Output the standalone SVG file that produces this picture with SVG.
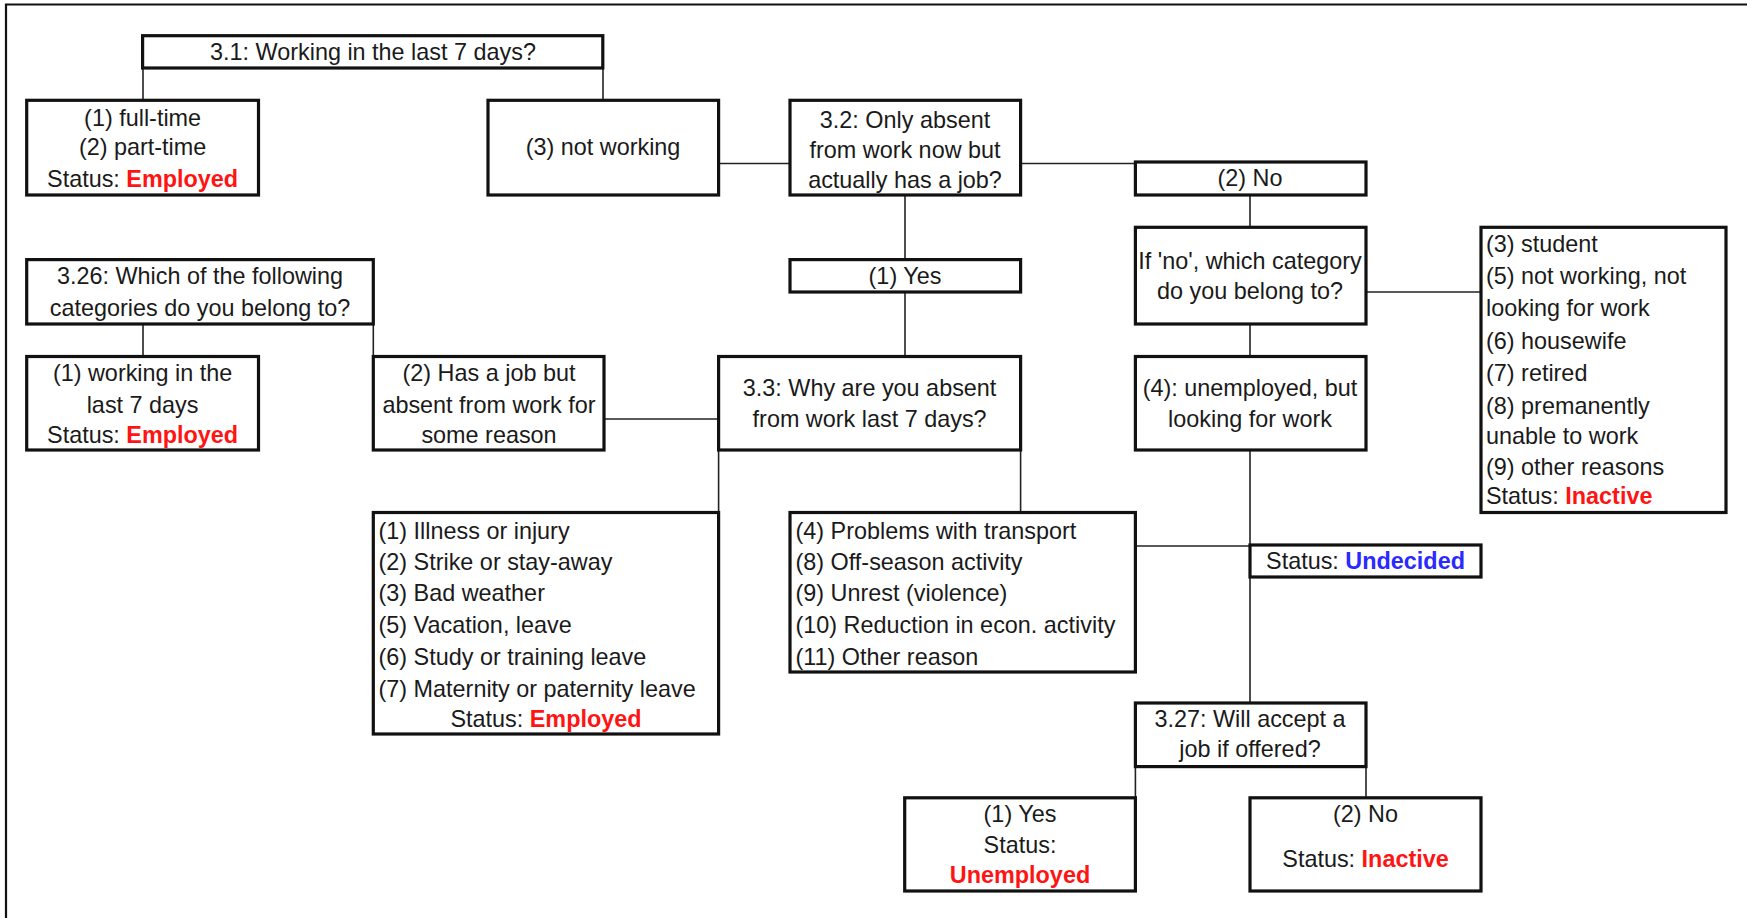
<svg xmlns="http://www.w3.org/2000/svg" width="1747" height="918" viewBox="0 0 1747 918">
  <style>
    .frame { stroke: #111; stroke-width: 2.2; fill: none; }
    .conn { stroke: #222; stroke-width: 1.6; fill: none; }
    .box { fill: #fff; stroke: #111; stroke-width: 3.2; }
    text { font-family: "Liberation Sans", Arial, sans-serif; font-size: 23.4px; fill: #1a1a1a; }
    .c { text-anchor: middle; }
    .red { fill: #ff1414; font-weight: bold; }
    .blue { fill: #2a2aff; font-weight: bold; }
  </style>

  <!-- page frame -->
  <path class="frame" d="M6 918 V4.5 H1747"/>

  <!-- connectors (drawn beneath the boxes) -->
  <g id="connectors">
    <path class="conn" d="M143 68 V100"/>
    <path class="conn" d="M603 68 V100"/>
    <path class="conn" d="M718.6 163.5 H790"/>
    <path class="conn" d="M1020.6 163.5 H1135.4"/>
    <path class="conn" d="M905 195 V260"/>
    <path class="conn" d="M905 292 V356.5"/>
    <path class="conn" d="M1250 195 V227"/>
    <path class="conn" d="M1366 292 H1481"/>
    <path class="conn" d="M1250 324 V356.5"/>
    <path class="conn" d="M1250 450 V703"/>
    <path class="conn" d="M1135.4 546 H1250"/>
    <path class="conn" d="M143 324 V356.5"/>
    <path class="conn" d="M373.3 324 V356.5"/>
    <path class="conn" d="M604 419 H718.6"/>
    <path class="conn" d="M718.6 450 V512.5"/>
    <path class="conn" d="M1020.6 450 V512.5"/>
    <path class="conn" d="M1135.4 766.6 V797.8"/>
    <path class="conn" d="M1366 766.6 V797.8"/>
  </g>

  <g id="q31">
    <rect class="box" x="142.6" y="35.7" width="460.2" height="32.3"/>
    <text class="c" x="373" y="60">3.1: Working in the last 7 days?</text>
  </g>

  <g id="working">
    <rect class="box" x="26.7" y="100.3" width="231.8" height="94.7"/>
    <text class="c" x="142.6" y="126">(1) full-time</text>
    <text class="c" x="142.6" y="155">(2) part-time</text>
    <text class="c" x="142.6" y="187">Status: <tspan class="red">Employed</tspan></text>
  </g>

  <g id="not-working">
    <rect class="box" x="488" y="100.3" width="230.6" height="94.7"/>
    <text class="c" x="603" y="155">(3) not working</text>
  </g>

  <g id="q32">
    <rect class="box" x="790" y="100.3" width="230.6" height="94.7"/>
    <text class="c" x="905" y="128">3.2: Only absent</text>
    <text class="c" x="905" y="158">from work now but</text>
    <text class="c" x="905" y="188">actually has a job?</text>
  </g>

  <g id="q32-no">
    <rect class="box" x="1135.4" y="162" width="230.6" height="33"/>
    <text class="c" x="1250" y="186">(2) No</text>
  </g>

  <g id="which-category">
    <rect class="box" x="1135.4" y="227.3" width="230.6" height="96.7"/>
    <text class="c" x="1250" y="269">If 'no', which category</text>
    <text class="c" x="1250" y="299">do you belong to?</text>
  </g>

  <g id="inactive-list">
    <rect class="box" x="1481" y="227.3" width="245" height="285.2"/>
    <text x="1486" y="252">(3) student</text>
    <text x="1486" y="284">(5) not working, not</text>
    <text x="1486" y="316">looking for work</text>
    <text x="1486" y="349">(6) housewife</text>
    <text x="1486" y="381">(7) retired</text>
    <text x="1486" y="413.5">(8) premanently</text>
    <text x="1486" y="444">unable to work</text>
    <text x="1486" y="475">(9) other reasons</text>
    <text x="1486" y="504">Status: <tspan class="red">Inactive</tspan></text>
  </g>

  <g id="q326">
    <rect class="box" x="26.7" y="259.6" width="346.6" height="64.4"/>
    <text class="c" x="200" y="284">3.26: Which of the following</text>
    <text class="c" x="200" y="315.5">categories do you belong to?</text>
  </g>

  <g id="q32-yes">
    <rect class="box" x="790" y="259.6" width="230.6" height="32.4"/>
    <text class="c" x="905" y="284">(1) Yes</text>
  </g>

  <g id="working-7-days">
    <rect class="box" x="26.7" y="356.5" width="231.8" height="93.5"/>
    <text class="c" x="142.6" y="381">(1) working in the</text>
    <text class="c" x="142.6" y="412.5">last 7 days</text>
    <text class="c" x="142.6" y="442.5">Status: <tspan class="red">Employed</tspan></text>
  </g>

  <g id="has-job-absent">
    <rect class="box" x="373.3" y="356.5" width="230.7" height="93.5"/>
    <text class="c" x="489" y="381">(2) Has a job but</text>
    <text class="c" x="489" y="412.5">absent from work for</text>
    <text class="c" x="489" y="442.5">some reason</text>
  </g>

  <g id="q33">
    <rect class="box" x="718.6" y="356.5" width="302" height="93.5"/>
    <text class="c" x="869.6" y="396">3.3: Why are you absent</text>
    <text class="c" x="869.6" y="427">from work last 7 days?</text>
  </g>

  <g id="unemployed-looking">
    <rect class="box" x="1135.4" y="356.5" width="230.6" height="93.5"/>
    <text class="c" x="1250" y="396">(4): unemployed, but</text>
    <text class="c" x="1250" y="427">looking for work</text>
  </g>

  <g id="reasons-employed">
    <rect class="box" x="373.3" y="512.5" width="345.3" height="221.5"/>
    <text x="378.5" y="538.5">(1) Illness or injury</text>
    <text x="378.5" y="569.5">(2) Strike or stay-away</text>
    <text x="378.5" y="601">(3) Bad weather</text>
    <text x="378.5" y="633">(5) Vacation, leave</text>
    <text x="378.5" y="664.5">(6) Study or training leave</text>
    <text x="378.5" y="697">(7) Maternity or paternity leave</text>
    <text class="c" x="546" y="727">Status: <tspan class="red">Employed</tspan></text>
  </g>

  <g id="reasons-undecided">
    <rect class="box" x="790" y="512.5" width="345.4" height="159.5"/>
    <text x="795.5" y="538.5">(4) Problems with transport</text>
    <text x="795.5" y="569.5">(8) Off-season activity</text>
    <text x="795.5" y="601">(9) Unrest (violence)</text>
    <text x="795.5" y="633">(10) Reduction in econ. activity</text>
    <text x="795.5" y="664.5">(11) Other reason</text>
  </g>

  <g id="undecided">
    <rect class="box" x="1250" y="545" width="231" height="32"/>
    <text class="c" x="1365.5" y="568.5">Status: <tspan class="blue">Undecided</tspan></text>
  </g>

  <g id="q327">
    <rect class="box" x="1135.4" y="703" width="230.6" height="63.6"/>
    <text class="c" x="1250" y="727">3.27: Will accept a</text>
    <text class="c" x="1250" y="757">job if offered?</text>
  </g>

  <g id="accept-yes">
    <rect class="box" x="904.7" y="797.8" width="230.7" height="93.2"/>
    <text class="c" x="1020" y="821.5">(1) Yes</text>
    <text class="c" x="1020" y="852.5">Status:</text>
    <text class="c" x="1020" y="882.6"><tspan class="red">Unemployed</tspan></text>
  </g>

  <g id="accept-no">
    <rect class="box" x="1250" y="797.8" width="231" height="93.2"/>
    <text class="c" x="1365.5" y="821.5">(2) No</text>
    <text class="c" x="1365.5" y="867">Status: <tspan class="red">Inactive</tspan></text>
  </g>
</svg>
